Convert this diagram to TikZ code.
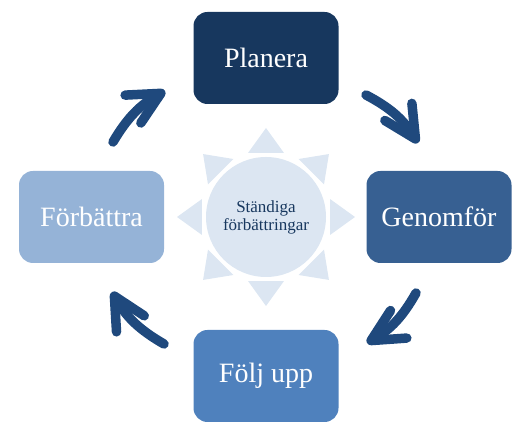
\documentclass[tikz,border=0pt]{standalone}
\usepackage{fontspec}
\setmainfont{Liberation Serif}
\usetikzlibrary{arrows.meta}
\usetikzlibrary{positioning}

\definecolor{plancol}{HTML}{17375E}
\definecolor{gencol}{HTML}{376092}
\definecolor{foljcol}{HTML}{4F81BD}
\definecolor{forbcol}{HTML}{95B3D7}
\definecolor{suncol}{HTML}{DCE6F2}
\definecolor{arrcol}{HTML}{1F497D}

\tikzset{
  phase/.style={rectangle, rounded corners=14pt, minimum width=145pt, minimum height=92pt,
    text=white, font=\fontsize{28}{32}\selectfont},
  flow/.style={draw=arrcol, line width=9.5pt, line cap=round, bend left=15,
    -{Straight Barb[round, length=32pt 0, width=32pt 0]}},
}

\begin{document}
\begin{tikzpicture}[x=1pt,y=1pt,node distance=159pt and 173pt,on grid]
	\useasboundingbox (0,0) rectangle (529,435);

	\node[circle, fill=suncol, minimum size=120pt, inner sep=0pt, align=center,
	      text=plancol, font=\fontsize{17}{18}\selectfont] (sun) at (266,218) {Ständiga\\förbättringar};
	\node[phase, fill=plancol] (plan) [above=of sun] {Planera};
	\node[phase, fill=gencol]  (gen)  [right=of sun] {Genomför};
	\node[phase, fill=foljcol] (folj) [below=of sun] {Följ upp};
	\node[phase, fill=forbcol] (forb) [left=of sun, xshift=-1.5pt] {Förbättra};

	% sun rays
	\begin{scope}[shift={(sun.center)}]
	\foreach \a in {0,45,...,315}
		\fill[suncol] (\a-15.7:66.5) -- (\a:89) -- (\a+15.7:66.5) -- cycle;
	\end{scope}

	\coordinate (tl-s) at (113,293);
	\coordinate (tl-e) at (165,344);
	\coordinate (tr-s) at (366,340);
	\coordinate (tr-e) at (418,292);
	\coordinate (br-s) at (416,142);
	\coordinate (br-e) at (367,92);
	\coordinate (bl-s) at (164,91);
	\coordinate (bl-e) at (112,143);

	\path (tl-s) edge [flow] (tl-e)
	      (tr-s) edge [flow] (tr-e)
	      (br-s) edge [flow] (br-e)
	      (bl-s) edge [flow] (bl-e);
\end{tikzpicture}
\end{document}
